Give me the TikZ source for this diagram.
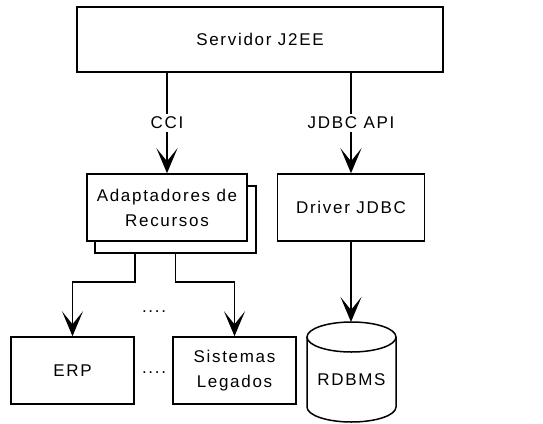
\documentclass[tikz,border=0pt]{standalone}
\usepackage{fontspec}
\setmainfont{Liberation Sans}[LetterSpace=10]
\usetikzlibrary{arrows.meta}
\begin{document}
\begin{tikzpicture}[x=1pt,y=-1pt,line width=1.5pt,
  txt/.style={font=\fontsize{17}{25}\selectfont},
  box/.style={draw,fill=white,rectangle,minimum height=67pt,inner sep=0pt,align=center,txt},
  arr/.style={-{Stealth[length=25pt,width=21pt,inset=13pt]}},
  lbl/.style={fill=white,inner sep=3pt,txt}]
\useasboundingbox (0,0) rectangle (543,423);
% boxes
\node[box,minimum width=366pt,minimum height=65pt] (srv) at (260,39.5) {Servidor J2EE};
\node[box,minimum width=161pt] (adpb) at (175.5,219.5) {};
\node[box,minimum width=160pt] (adp) at (167,207.5) {Adaptadores de\\Recursos};
\node[box,minimum width=147pt] (drv) at (351,207.5) {Driver JDBC};
\node[box,minimum width=123pt] (erp) at (72.5,370.5) {ERP};
\node[box,minimum width=123pt] (leg) at (234.5,370.5) {Sistemas\\Legados};
% cylinder
\draw (307,337) -- (307,407) arc[start angle=180,end angle=360,x radius=44.5pt,y radius=15pt] -- (396,337);
\draw (351.5,337) ellipse [x radius=44.5pt,y radius=15pt];
\node[txt] (db) at (351.5,380) {RDBMS};
\coordinate (dbtop) at (351,322);
% dots
\node[txt,inner sep=0pt] (d1) at (154,312) {....};
\node[txt,inner sep=0pt] (d2) at (154,373) {....};
% connectors
\draw[arr] (adp.north |- srv.south) -- node[lbl]{CCI} (adp.north);
\draw[arr] (drv.north |- srv.south) -- node[lbl]{JDBC API} (drv.north);
\draw[arr] (drv.south) -- (dbtop);
\draw[arr] ([xshift=-40.5pt]adpb.south) -- ++(0,28) -| (erp.north);
\draw[arr] (adpb.south) -- ++(0,28) -| (leg.north);
\end{tikzpicture}
\end{document}
